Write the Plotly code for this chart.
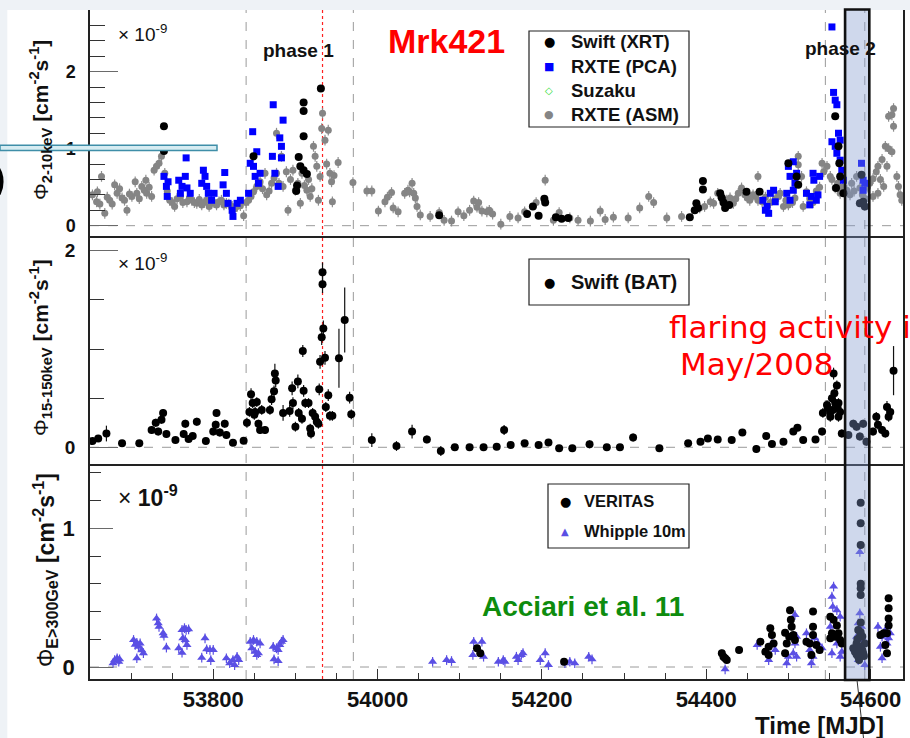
import plotly.graph_objects as go

W, H = 910, 738


def fx(p):
    return p / W


def fy(p):
    return 1 - p / H


# ---------------- data (fluxes in units of 1e-9 cm^-2 s^-1) ----------------
# RXTE (ASM), 2-10 keV
asm_mjd = [53653, 53659, 53658, 53664, 53668, 53674, 53680, 53683, 53689, 53695, 53701, 53705,
           53707, 53713, 53719, 53718, 53725, 53728, 53731, 53734, 53737, 53741, 53747, 53753,
           53760, 53768, 53774, 53780, 53786, 53792, 53798, 53804, 53810, 53816, 53823, 53829,
           53837, 53843, 53849, 53853, 53857, 53863, 53865, 53871, 53877, 53877, 53883, 53885,
           53889, 53891, 53897, 53900, 53906, 53908, 53914, 53918, 53922, 53924, 53926, 53928,
           53930, 53932, 53933, 53936, 53940, 53942, 53944, 53945, 53952, 53970, 53987, 53993,
           54001, 54009, 54012, 54017, 54019, 54025, 54033, 54037, 54039, 54042, 54044, 54046,
           54048, 54052, 54064, 54075, 54081, 54090, 54098, 54105, 54112, 54117, 54121, 54123,
           54127, 54133, 54136, 54140, 54150, 54161, 54171, 54179, 54193, 54204, 54214, 54221,
           54234, 54244, 54259, 54271, 54277, 54287, 54305, 54319, 54330, 54336, 54352, 54370,
           54392, 54398, 54405, 54409, 54414, 54419, 54429, 54433, 54439, 54443, 54447, 54453,
           54457, 54463, 54463, 54468, 54490, 54494, 54500, 54512, 54512, 54516, 54518, 54522,
           54541, 54543, 54547, 54551, 54557, 54563, 54571, 54577, 54583, 54587, 54599, 54603,
           54607, 54609, 54614, 54618, 54622, 54622, 54626, 54626, 54628, 54628, 54632, 54634,
           54636, 54638, 54620, 54616, 54609, 54603,
           54425, 54436, 54450, 54460, 54472, 54478, 54484, 54488, 54497, 54505, 54508, 54526,
           54530, 54534, 54538, 54553, 54560, 54566, 54575, 54580, 54590, 54594, 54596, 54612,
           53662, 53671, 53677, 53686, 53692, 53698, 53710, 53716, 53722, 53744, 53750, 53756,
           53763, 53771, 53777, 53783, 53789, 53795, 53801, 53807, 53813, 53819, 53826, 53833,
           53840, 53846, 53860, 53868, 53874, 53880, 53894, 53903, 53911, 53916, 53920, 53938,
           53947]
asm_flux = [0.40, 0.44, 0.31, 0.64, 0.16, 0.33, 0.53, 0.42, 0.36, 0.20, 0.38, 0.57,
            0.42, 0.51, 0.42, 0.59, 0.38, 0.72, 0.77, 0.81, 0.90, 0.68, 0.33, 0.25,
            0.38, 0.31, 0.33, 0.29, 0.27, 0.33, 0.29, 0.27, 0.33, 0.29, 0.25, 0.25,
            0.13, 0.33, 0.44, 0.51, 0.57, 0.68, 0.40, 0.55, 1.20, 0.68, 0.90, 0.51,
            0.70, 0.20, 0.72, 0.46, 0.29, 0.68, 0.46, 0.38, 1.03, 0.90, 0.77, 0.33,
            0.64, 1.26, 1.46, 1.11, 1.24, 0.68, 0.57, 0.31, 0.82, 0.56, 0.45, 0.45,
            0.19, 0.31, 0.37, 0.43, 0.23, 0.18, 0.42, 0.46, 0.44, 0.55, 0.42, 0.36,
            0.25, 0.14, 0.12, 0.17, 0.07, 0.06, 0.18, 0.13, 0.20, 0.32, 0.24, 0.30,
            0.19, 0.18, 0.20, 0.15, 0.02, 0.12, 0.10, 0.18, 0.30, 0.59, 0.07, 0.17,
            0.10, 0.07, 0.06, 0.19, 0.08, 0.11, 0.10, 0.23, 0.38, 0.30, 0.10, 0.12,
            0.23, 0.25, 0.31, 0.29, 0.42, 0.38, 0.36, 0.29, 0.42, 0.49, 0.40, 0.33,
            0.40, 0.64, 0.33, 0.31, 0.42, 0.25, 0.27, 0.90, 0.79, 0.64, 0.25, 0.44,
            0.81, 0.70, 0.77, 0.64, 0.49, 0.42, 0.46, 0.55, 0.64, 0.49, 0.55, 0.61,
            0.70, 0.77, 0.86, 1.03, 1.42, 1.00, 1.44, 0.96, 1.52, 1.29, 0.64, 0.51,
            0.40, 0.33, 0.77, 0.51, 0.42, 0.38,
            0.33, 0.35, 0.36, 0.38, 0.37, 0.30, 0.35, 0.38, 0.33, 0.30, 0.36, 0.35,
            0.30, 0.45, 0.50, 0.60, 0.55, 0.50, 0.40, 0.45, 0.40, 0.35, 0.50, 0.60,
            0.28, 0.37, 0.28, 0.48, 0.33, 0.41, 0.35, 0.46, 0.50, 0.45, 0.30, 0.35,
            0.30, 0.36, 0.30, 0.34, 0.30, 0.25, 0.30, 0.31, 0.27, 0.28, 0.22, 0.26,
            0.30, 0.38, 0.48, 0.45, 0.62, 0.55, 0.60, 0.55, 0.52, 0.60, 0.48, 0.80,
            0.65]

# Swift (XRT), 2-10 keV
xrt_mjd = [53740, 53740, 53849, 53901, 53902, 53904, 53906, 53910, 53910, 53910, 53910, 53914,
           53931, 54075, 54182, 54189, 54196, 54203, 54204, 54217, 54224, 54232, 54380, 54386,
           54388, 54390, 54396, 54396, 54417, 54419, 54421, 54423, 54428, 54449, 54465, 54500,
           54510, 54512, 54557, 54558, 54561, 54562, 54563, 54567, 54587, 54589, 54591, 54593]
xrt_flux = [1.29, 0.97, 0.90, 0.45, 0.52, 0.89, 0.77, 1.60, 1.49, 1.16, 0.72, 0.67,
            1.78, 0.135, 0.15, 0.25, 0.13, 0.35, 0.30, 0.11, 0.09, 0.10, 0.11, 0.20,
            0.29, 0.23, 0.58, 0.47, 0.42, 0.36, 0.30, 0.23, 0.27, 0.44, 0.44, 0.81,
            0.64, 0.53, 1.42, 0.49, 1.03, 0.81, 0.64, 0.42, 0.29, 0.66, 0.31, 0.25]

# RXTE (PCA), 2-10 keV
pca_mjd = [53740, 53743, 53744, 53745, 53758, 53760, 53762, 53766, 53767, 53768, 53772, 53786,
           53788, 53790, 53792, 53794, 53798, 53801, 53812, 53814, 53816, 53818, 53823, 53824,
           53829, 53833, 53843, 53845, 53848, 53849, 53851, 53853, 53855, 53857, 53872, 53873,
           53875, 53879, 53881, 53883, 53883, 53885,
           54469, 54472, 54474, 54476, 54478, 54482, 54484, 54498, 54500, 54502, 54502, 54506,
           54506, 54508, 54510, 54522, 54526, 54528, 54530, 54531, 54534, 54536, 54538, 54553,
           54553, 54555, 54557, 54557, 54559, 54559, 54561, 54563, 54563, 54565, 54567, 54589,
           54591, 54591, 54593]
pca_flux = [0.64, 0.51, 0.38, 0.57, 0.59, 0.42, 0.51, 0.64, 0.88, 0.49, 0.42, 0.55,
            0.72, 0.64, 0.51, 0.42, 0.33, 0.42, 0.53, 0.69, 0.42, 0.29, 0.20, 0.12,
            0.29, 0.33, 0.42, 0.81, 1.22, 0.77, 0.64, 0.96, 0.55, 0.68, 0.90, 1.57,
            0.68, 0.51, 1.14, 1.03, 0.88, 1.37,
            0.33, 0.20, 0.25, 0.16, 0.42, 0.46, 0.31, 0.42, 0.77, 0.64, 0.33, 0.83,
            0.46, 0.55, 0.68, 0.42, 0.27, 0.38, 0.68, 0.59, 0.33, 0.40, 0.64, 2.58,
            1.09, 1.73, 1.63, 1.03, 1.57, 0.94, 1.20, 1.11, 0.85, 0.72, 0.59, 0.81,
            0.59, 0.46, 0.55]

# Swift (BAT), 15-150 keV
bat_mjd = [53653, 53660, 53670, 53689, 53710, 53725, 53730, 53733, 53737, 53739, 53743, 53754,
           53764, 53766, 53770, 53775, 53780, 53791, 53800, 53803, 53804, 53808, 53814, 53816,
           53824, 53837, 53841, 53844, 53846, 53848, 53850, 53851, 53853, 53855, 53857, 53859,
           53863, 53869, 53871, 53874, 53875, 53876, 53885, 53893, 53896, 53897, 53900, 53903,
           53904, 53908, 53909, 53910, 53912, 53916, 53918, 53919, 53921, 53924, 53926, 53928,
           53929, 53930, 53932, 53933, 53933, 53934, 53936, 53937, 53940, 53942, 53945, 53953,
           53960, 53966, 53968, 53993, 54023, 54042, 54060, 54077, 54094, 54112, 54129, 54145,
           54154, 54162, 54179, 54196, 54208, 54221, 54237, 54258, 54279, 54295, 54311, 54343,
           54378, 54393, 54402, 54414, 54431, 54444, 54461, 54473, 54480, 54494, 54506, 54511,
           54518, 54533, 54541, 54542, 54547, 54551, 54551, 54553, 54555, 54557, 54559, 54561,
           54561, 54563, 54565, 54573, 54579, 54583, 54587, 54591, 54595, 54603, 54607, 54609,
           54614, 54618, 54620, 54622, 54624, 54628, 54548, 54554, 54556, 54560]
bat_flux = [0.064, 0.09, 0.14, 0.04, 0.04, 0.176, 0.25, 0.16, 0.28, 0.35, 0.135, 0.074,
            0.135, 0.24, 0.084, 0.115, 0.26, 0.064, 0.16, 0.23, 0.35, 0.15, 0.24, 0.125,
            0.047, 0.067, 0.25, 0.36, 0.54, 0.45, 0.33, 0.36, 0.46, 0.24, 0.176, 0.38,
            0.176, 0.38, 0.49, 0.57, 0.75, 0.68, 0.35, 0.37, 0.60, 0.45, 0.21, 0.67,
            0.35, 0.29, 0.98, 0.575, 0.45, 0.45, 0.19, 0.14, 0.35, 0.31, 0.26, 0.24,
            0.59, 0.87, 1.12, 1.66, 1.78, 1.21, 0.91, 0.41, 0.53, 0.32, 0.32, 0.905,
            1.295, 0.505, 0.335, 0.074, 0.013, 0.16, 0.08, -0.038, 0.0, 0.0, 0.0, 0.006,
            0.176, 0.023, 0.04, 0.023, 0.05, -0.01, -0.01, 0.03, 0.0, 0.0, 0.10, -0.01,
            0.04, 0.057, 0.09, 0.08, 0.074, 0.15, -0.017, 0.115, 0.034, 0.057, 0.16, 0.20,
            0.074, 0.08, 0.16, 0.35, 0.43, 0.36, 0.31, 0.50, 0.75, 0.45, 0.63, 0.45,
            0.31, 0.36, 0.14, 0.125, 0.24, 0.21, 0.11, 0.24, 0.057, 0.16, 0.31, 0.23,
            0.176, 0.14, 0.41, 0.31, 0.36, 0.78, 0.40, 0.38, 0.55, 0.40]
bat_err = [0.03, 0.03, 0.08, 0.03, 0.03, 0.04, 0.04, 0.04, 0.04, 0.04, 0.04, 0.03,
           0.04, 0.04, 0.03, 0.03, 0.04, 0.03, 0.04, 0.04, 0.04, 0.04, 0.04, 0.04,
           0.03, 0.03, 0.05, 0.05, 0.06, 0.05, 0.05, 0.05, 0.05, 0.04, 0.04, 0.05,
           0.04, 0.05, 0.06, 0.06, 0.10, 0.07, 0.08, 0.06, 0.07, 0.06, 0.05, 0.07,
           0.05, 0.05, 0.06, 0.06, 0.05, 0.05, 0.05, 0.05, 0.05, 0.05, 0.05, 0.05,
           0.06, 0.07, 0.08, 0.09, 0.10, 0.08, 0.07, 0.05, 0.06, 0.05, 0.05, 0.30,
           0.33, 0.06, 0.05, 0.07, 0.05, 0.07, 0.04, 0.05, 0.03, 0.03, 0.03, 0.03,
           0.05, 0.03, 0.03, 0.03, 0.03, 0.03, 0.03, 0.04, 0.03, 0.03, 0.04, 0.03,
           0.03, 0.03, 0.03, 0.03, 0.03, 0.03, 0.04, 0.03, 0.03, 0.03, 0.03, 0.03,
           0.03, 0.03, 0.04, 0.05, 0.05, 0.05, 0.05, 0.05, 0.06, 0.05, 0.05, 0.05,
           0.05, 0.05, 0.04, 0.04, 0.04, 0.04, 0.04, 0.04, 0.04, 0.04, 0.05, 0.05,
           0.04, 0.04, 0.06, 0.05, 0.05, 0.25, 0.05, 0.05, 0.05, 0.05]

# Whipple 10m, E > 300 GeV
whipple_mjd = [53678, 53680, 53683, 53685, 53686, 53703, 53705, 53707, 53707, 53709, 53711, 53713,
               53715, 53731, 53733, 53734, 53739, 53740, 53743, 53758, 53762, 53762, 53763, 53765,
               53766, 53767, 53768, 53770, 53786, 53790, 53792, 53796, 53797, 53800, 53816, 53820,
               53824, 53826, 53829, 53831, 53845, 53847, 53849, 53851, 53853, 53853, 53855, 53857,
               53873, 53874, 53877, 53879, 53879, 53881, 53883, 53885, 54067, 54084, 54090, 54116,
               54117, 54127, 54129, 54147, 54153, 54155, 54169, 54171, 54175, 54177, 54198, 54204,
               54208, 54228, 54234, 54240, 54257, 54261, 54423, 54462, 54476, 54480, 54484, 54498,
               54500, 54506, 54508, 54508, 54510, 54510, 54522, 54526, 54528, 54530, 54532, 54536,
               54541, 54551, 54553, 54553, 54554, 54555, 54559, 54559, 54563, 54563, 54565, 54581,
               54583, 54585, 54585, 54587, 54587, 54587, 54589, 54591, 54593, 54609, 54612, 54614,
               54614, 54618, 54620, 54622, 54624]
whipple_flux = [0.027, 0.05, 0.063, 0.038, 0.055, 0.195, 0.16, 0.175, 0.063, 0.146, 0.17, 0.12,
                0.10, 0.35, 0.315, 0.29, 0.243, 0.226, 0.14, 0.135, 0.267, 0.103, 0.207, 0.28,
                0.195, 0.267, 0.159, 0.272, 0.067, 0.207, 0.128, 0.123, 0.05, 0.123, 0.063, 0.027,
                0.05, 0.014, 0.074, 0.05, 0.182, 0.135, 0.195, 0.11, 0.182, 0.087, 0.10, 0.17,
                0.146, 0.055, 0.135, 0.123, 0.043, 0.159, 0.182, 0.195, 0.038, 0.05, 0.043, 0.087,
                0.182, 0.182, 0.074, 0.038, 0.05, 0.038, 0.074, 0.05, 0.087, 0.10, 0.05, 0.10,
                0.014, 0.027, 0.038, 0.027, 0.074, 0.055, -0.017, 0.159, 0.05, 0.17, 0.123, 0.027,
                0.074, 0.10, 0.17, 0.375, 0.218, 0.074, 0.243, 0.123, 0.027, 0.074, 0.207, 0.17,
                0.135, 0.29, 0.507, 0.10, 0.435, 0.58, 0.41, 0.17, 0.363, 0.074, 0.11, 0.123,
                0.218, 0.315, 0.05, 0.83, 0.387, 0.074, 0.29, 0.195, 0.014, 0.29, 0.146, 0.218,
                0.063, 0.267, 0.17, 0.207, 0.243]

# VERITAS, E > 300 GeV
veritas_mjd = [54121, 54125, 54227, 54419, 54421, 54423, 54425, 54440, 54466, 54472, 54476, 54476,
               54478, 54480, 54482, 54496, 54496, 54498, 54501, 54502, 54503, 54504, 54506, 54508,
               54522, 54526, 54528, 54530, 54530, 54530, 54534, 54538, 54551, 54551, 54553, 54555,
               54557, 54559, 54561, 54563, 54565, 54579, 54581, 54583, 54585, 54585, 54587, 54588,
               54588, 54588, 54588, 54588, 54588, 54589, 54591, 54593, 54612, 54616, 54618, 54620,
               54620, 54622, 54622, 54622, 54622, 54584, 54586, 54588, 54590, 54592, 54586, 54588,
               54590, 54583]
veritas_flux = [0.135, 0.10, 0.038, 0.10, 0.074, 0.063, 0.05, 0.123, 0.182, 0.11, 0.087, 0.146,
                0.28, 0.23, 0.17, 0.247, 0.10, 0.17, 0.218, 0.41, 0.34, 0.29, 0.23, 0.195,
                0.182, 0.17, 0.087, 0.40, 0.29, 0.23, 0.159, 0.123, 0.363, 0.207, 0.243, 0.34,
                0.218, 0.30, 0.243, 0.195, 0.17, 0.135, 0.11, 0.17, 0.267, 0.074, 0.218, 1.185,
                1.036, 0.88, 0.60, 0.567, 0.52, 0.123, 0.10, 0.17, 0.23, 0.243, 0.159, 0.243,
                0.10, 0.495, 0.423, 0.35, 0.30, 0.20, 0.15, 0.25, 0.12, 0.08, 0.05, 0.32,
                0.22, 0.09]

# time markers
phase_edges = [53840, 53970.5, 54545, 54593]
peak_mjd = 53933
flare_window = [54569, 54598.5]

mjd_range = [53650, 54639.5]

# ---------------- styling ----------------
HELV = "Liberation Sans"
GREY_ASM = "#858585"
BLUE_PCA = "#0000ff"
VIOLET = "#5a4fe4"

x_dom = [fx(90), fx(903)]
y1_dom = [fy(236), fy(10)]
y2_dom = [fy(464), fy(236)]
y3_dom = [fy(679), fy(464)]

fig = go.Figure()

# panel 1: X-ray 2-10 keV
fig.add_trace(go.Scatter(
    x=asm_mjd, y=asm_flux, mode="markers", xaxis="x", yaxis="y",
    marker=dict(symbol="circle", size=7, color=GREY_ASM),
    error_y=dict(type="constant", value=0.07, color="#8e8e8e", thickness=1.2, width=0),
    error_x=dict(type="constant", value=3, color="#8e8e8e", thickness=1.2, width=0),
    showlegend=False))
fig.add_trace(go.Scatter(
    x=pca_mjd, y=pca_flux, mode="markers", xaxis="x", yaxis="y",
    marker=dict(symbol="square", size=7, color=BLUE_PCA),
    error_y=dict(type="constant", value=0.03, color=BLUE_PCA, thickness=1, width=0),
    showlegend=False))
fig.add_trace(go.Scatter(
    x=xrt_mjd, y=xrt_flux, mode="markers", xaxis="x", yaxis="y",
    marker=dict(symbol="circle", size=8, color="black"),
    showlegend=False))

# panel 2: hard X-ray 15-150 keV
fig.add_trace(go.Scatter(
    x=bat_mjd, y=bat_flux, mode="markers", xaxis="x2", yaxis="y2",
    marker=dict(symbol="circle", size=8, color="black"),
    error_y=dict(type="data", array=bat_err, color="#111", thickness=1.2, width=0),
    error_x=dict(type="constant", value=4, color="#111", thickness=1, width=0),
    showlegend=False))

# panel 3: VHE gamma rays
fig.add_trace(go.Scatter(
    x=whipple_mjd, y=whipple_flux, mode="markers", xaxis="x3", yaxis="y3",
    marker=dict(symbol="triangle-up", size=8, color=VIOLET),
    error_y=dict(type="constant", value=0.035, color=VIOLET, thickness=1.2, width=0),
    showlegend=False))
fig.add_trace(go.Scatter(
    x=veritas_mjd, y=veritas_flux, mode="markers", xaxis="x3", yaxis="y3",
    marker=dict(symbol="circle", size=8, color="black"),
    error_y=dict(type="constant", value=0.025, color="#111", thickness=1.2, width=0),
    showlegend=False))


def xaxis_cfg(anchor, labels):
    cfg = dict(domain=x_dom, range=mjd_range, anchor=anchor, showgrid=False, zeroline=False,
               showline=True, linecolor="#222", linewidth=1.5)
    if labels:
        cfg.update(ticks="inside", ticklen=10, tickwidth=1.2, tickcolor="#333",
                   tick0=53800, dtick=200, tickformat="d",
                   minor=dict(ticks="inside", ticklen=6, tickwidth=1.2, tickcolor="#333", dtick=50),
                   tickfont=dict(family=HELV, size=22, color="#111", weight="bold"),
                   ticklabelstandoff=0)
    else:
        cfg.update(showticklabels=False, ticks="")
    return cfg


def yaxis_cfg(domain, rng, anchor, dtick, mdtick, tlen, mtlen, fsize):
    return dict(domain=domain, range=rng, anchor=anchor, showgrid=False, zeroline=False,
                showline=True, linecolor="#222", linewidth=1.5, mirror=True,
                tick0=0, dtick=dtick, ticks="inside", ticklen=tlen, tickwidth=1.3,
                tickcolor="#6a6a6a",
                minor=dict(ticks="inside", ticklen=mtlen, tickwidth=1.3, tickcolor="#333",
                           dtick=mdtick),
                tickfont=dict(family=HELV, size=fsize, color="#111", weight="bold"),
                ticklabelstandoff=9)


fig.update_layout(
    width=W, height=H, margin=dict(l=0, r=0, t=0, b=0),
    paper_bgcolor="#eef2f6", plot_bgcolor="rgba(0,0,0,0)",
    showlegend=False,
    xaxis=xaxis_cfg("y", False),
    xaxis2=xaxis_cfg("y2", False),
    xaxis3=xaxis_cfg("y3", True),
    yaxis=yaxis_cfg(y1_dom, [-0.134, 2.80], "x", 1, 0.2, 28, 15, 18),
    yaxis2=yaxis_cfg(y2_dom, [-0.170, 2.15], "x2", 2, 0.5, 28, 14, 19),
    yaxis3=yaxis_cfg(y3_dom, [-0.0865, 1.4636], "x3", 1, 0.2, 23, 11, 22),
)

shapes = []
# white slide area
shapes.append(dict(type="rect", xref="paper", yref="paper", x0=fx(7.3), x1=1, y0=0, y1=fy(10),
                   fillcolor="white", line=dict(width=0), layer="below"))
# dashed zero lines
for ya, xa in (("y", "x"), ("y2", "x2"), ("y3", "x3")):
    shapes.append(dict(type="line", xref=f"{xa} domain", yref=ya, x0=0, x1=1, y0=0, y1=0,
                       line=dict(color="#9a9a9a", width=1, dash="dash"), layer="below"))
# phase boundaries
for m in phase_edges:
    shapes.append(dict(type="line", xref="x3", yref="paper", x0=m, x1=m, y0=fy(679), y1=fy(10),
                       line=dict(color="#9a9a9a", width=1, dash="dash"), layer="below"))
shapes.append(dict(type="line", xref="x3", yref="paper", x0=peak_mjd, x1=peak_mjd,
                   y0=fy(679), y1=fy(10), line=dict(color="#ff2020", width=1.2, dash="dot"),
                   layer="below"))
# highlighted flare window
shapes.append(dict(type="rect", xref="x3", yref="paper", x0=flare_window[0], x1=flare_window[1],
                   y0=fy(680), y1=fy(9.5), fillcolor="rgba(128,152,204,0.38)",
                   line=dict(color="#111", width=2.6), layer="above"))
shapes.append(dict(type="line", xref="paper", yref="paper", x0=fx(857), x1=fx(863.5),
                   y0=fy(680), y1=fy(738), line=dict(color="#333", width=1)))
# legend boxes
for (l, t, r, b) in ((529, 31, 689, 127), (529, 259, 689, 305), (548, 484, 689, 548)):
    shapes.append(dict(type="rect", xref="paper", yref="paper", x0=fx(l), x1=fx(r),
                       y0=fy(b), y1=fy(t), fillcolor="white", line=dict(color="#222", width=1.2),
                       layer="above"))
# teal rule from the slide
shapes.append(dict(type="rect", xref="paper", yref="paper", x0=0, x1=fx(217), y0=fy(150.4),
                   y1=fy(145.2), fillcolor="#d6ecf2", line=dict(color="#3f8ea8", width=1.5),
                   layer="above"))
fig.update_layout(shapes=shapes)

ann = []


def text(x, y, s, size, color="#111", family=HELV, xanchor="center", yanchor="middle", angle=0):
    ann.append(dict(x=fx(x), y=fy(y), xref="paper", yref="paper", text=s, showarrow=False,
                    xanchor=xanchor, yanchor=yanchor, textangle=angle,
                    font=dict(family=family, size=size, color=color)))


# scale factors
text(116, 33, "× 10<sup>-9</sup>", 19, xanchor="left")
text(116, 262, "× 10<sup>-9</sup>", 19, xanchor="left")
text(116, 496, "× <b>10<sup>-9</sup></b>", 23, xanchor="left")

# axis titles
text(40, 120, "Φ<b><sub>2-10keV</sub> [cm<sup>-2</sup>s<sup>-1</sup>]</b>", 21, angle=-90)
text(40, 348, "Φ<b><sub>15-150keV</sub> [cm<sup>-2</sup>s<sup>-1</sup>]</b>", 21, angle=-90)
text(45, 570, "Φ<b><sub>E>300GeV</sub> [cm<sup>-2</sup>s<sup>-1</sup>]</b>", 23, angle=-90)
text(819, 725, "<b>Time [MJD]</b>", 24)

# labels
text(298, 50, "<b>phase 1</b>", 19)
text(840, 48, "<b>phase 2</b>", 19)
text(446, 41, "<b>Mrk421</b>", 34, color="#ff0000")
text(583, 606, "<b>Acciari et al. 11</b>", 28, color="#0e8c0e")
text(667, 327, "flaring activity in", 31, color="#ff0000", family="DejaVu Sans", xanchor="left")
text(678, 364, "May/2008", 31, color="#ff0000", family="DejaVu Sans", xanchor="left")

# legend keys and entries
SYM = "DejaVu Sans"
text(549, 42, "●", 13, color="black", family=SYM)
text(549, 66, "■", 11, color=BLUE_PCA, family=SYM)
text(549, 90, "◇", 10, color="#33dd33", family=SYM)
text(549, 114, "●", 11, color=GREY_ASM, family=SYM)
text(569, 42, "<b>Swift (XRT)</b>", 18.5, xanchor="left")
text(569, 66, "<b>RXTE (PCA)</b>", 18.5, xanchor="left")
text(569, 90, "<b>Suzaku</b>", 18.5, xanchor="left")
text(569, 114, "<b>RXTE (ASM)</b>", 18.5, xanchor="left")

text(549, 282, "●", 13, color="black", family=SYM)
text(569, 282, "<b>Swift (BAT)</b>", 20, xanchor="left")

text(565, 501, "●", 13, color="black", family=SYM)
text(565, 531, "▲", 10, color=VIOLET, family=SYM)
text(582, 501, "<b>VERITAS</b>", 16.5, xanchor="left")
text(582, 531, "<b>Whipple 10m</b>", 16.5, xanchor="left")

# large glyph at the slide edge
text(8, 182, "<b>O</b>", 66, color="black", xanchor="right")

fig.update_layout(annotations=ann)

fig.write_html("out.html")
